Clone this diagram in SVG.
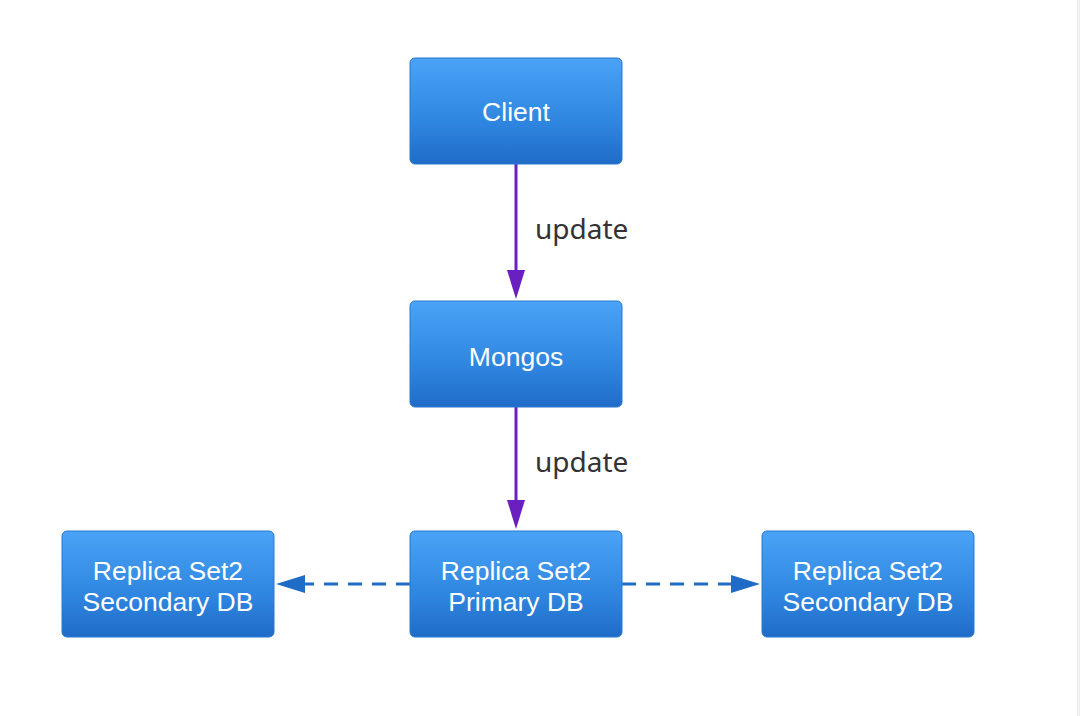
<svg xmlns="http://www.w3.org/2000/svg" width="1080" height="716" viewBox="0 0 1080 716">
<defs>
<linearGradient id="g" x1="0" y1="0" x2="0" y2="1">
<stop offset="0" stop-color="#4aa3f6"/>
<stop offset="0.6" stop-color="#2f86e0"/>
<stop offset="1" stop-color="#1f6cc8"/>
</linearGradient>
</defs>
<style>
.box{fill:url(#g);stroke:#2a78d2;stroke-width:1}
.t{fill:#ffffff;font-family:"Liberation Sans",Arial,sans-serif;font-size:26.5px;text-anchor:middle}
.lbl{fill:#333333;font-family:"Noto Sans","Open Sans","Liberation Sans",sans-serif;font-size:28px}
.solid{stroke:#6a1fc0;stroke-width:3;fill:none}
.dash{stroke:#1f6cc6;stroke-width:3;fill:none;stroke-dasharray:14,10}
</style>
<rect x="0" y="0" width="1080" height="716" fill="#ffffff"/>
<rect x="1077" y="0" width="3" height="716" fill="#f0f0f0"/>
<g id="connectors">
<line class="solid" x1="516" y1="164" x2="516" y2="270"/>
<path d="M507,270 L525,270 L516,299 Z" fill="#6a1fc0"/>
<line class="solid" x1="516" y1="407" x2="516" y2="500"/>
<path d="M507,500 L525,500 L516,529 Z" fill="#6a1fc0"/>
<line class="dash" x1="410" y1="584" x2="305" y2="584"/>
<path d="M305,575 L305,593 L276,584 Z" fill="#1f6cc6"/>
<line class="dash" x1="622" y1="584" x2="731" y2="584"/>
<path d="M731,575 L731,593 L760,584 Z" fill="#1f6cc6"/>
<text class="lbl" x="535" y="239">update</text>
<text class="lbl" x="535" y="472">update</text>
</g>
<g id="client">
<rect class="box" x="410" y="58" width="212" height="106" rx="5"/>
<text class="t" x="516" y="121">Client</text>
</g>
<g id="mongos">
<rect class="box" x="410" y="301" width="212" height="106" rx="5"/>
<text class="t" x="516" y="366">Mongos</text>
</g>
<g id="primary">
<rect class="box" x="410" y="531" width="212" height="106" rx="5"/>
<text class="t" x="516" y="580">Replica Set2</text>
<text class="t" x="516" y="611">Primary DB</text>
</g>
<g id="secondary-left">
<rect class="box" x="62" y="531" width="212" height="106" rx="5"/>
<text class="t" x="168" y="580">Replica Set2</text>
<text class="t" x="168" y="611">Secondary DB</text>
</g>
<g id="secondary-right">
<rect class="box" x="762" y="531" width="212" height="106" rx="5"/>
<text class="t" x="868" y="580">Replica Set2</text>
<text class="t" x="868" y="611">Secondary DB</text>
</g>
</svg>
